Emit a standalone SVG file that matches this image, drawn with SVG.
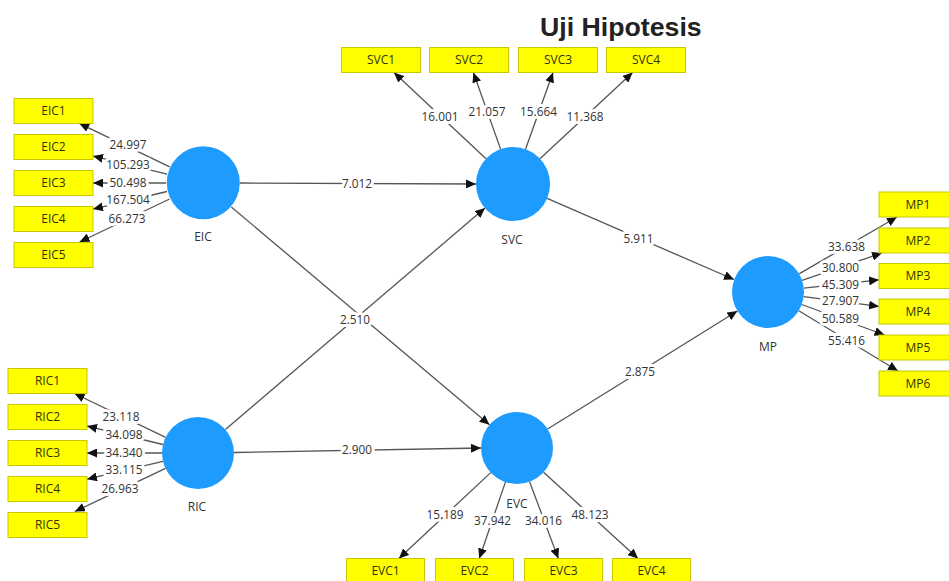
<svg xmlns="http://www.w3.org/2000/svg" width="949" height="581" viewBox="0 0 949 581">
<defs>
<marker id="ah" markerUnits="userSpaceOnUse" markerWidth="11" markerHeight="9" refX="10" refY="4.5" orient="auto"><path d="M0,0 L10,4.5 L0,9 z" fill="#111"/></marker>
<style>
.bg{fill:#fff}
.title{font-family:"Liberation Sans",Arial,sans-serif;font-weight:bold;font-size:26.7px;fill:#222}
.lv{fill:#1E9BFF}
.lvt{font-family:"Open Sans","Noto Sans",sans-serif;font-size:12px;fill:#333;text-anchor:middle}
.ind rect{fill:#FFFF00;stroke:#C8C800;stroke-width:1}
.ind text{font-family:"Open Sans","Noto Sans",sans-serif;font-size:12px;fill:#333300;text-anchor:middle}
.e line{stroke:#555;stroke-width:1.3;marker-end:url(#ah)}
.lbl{font-family:"Open Sans","Noto Sans",sans-serif;font-size:11.8px;fill:#333;text-anchor:middle;stroke:#fff;stroke-width:6;paint-order:stroke;stroke-linejoin:round}
</style>
</defs>
<rect class="bg" width="949" height="581"/>
<text class="title" x="540" y="36">Uji Hipotesis</text>

<g id="connectors" class="e">
<line x1="169.7" y1="166.9" x2="79.2" y2="123.3"/>
<line x1="167.1" y1="174.2" x2="93" y2="156.1"/>
<line x1="166" y1="183" x2="93" y2="183"/>
<line x1="167" y1="191.5" x2="93" y2="209.1"/>
<line x1="169.6" y1="199" x2="79.6" y2="242"/>
<line x1="165.6" y1="437.4" x2="74.5" y2="393.5"/>
<line x1="163" y1="444.5" x2="87" y2="426.1"/>
<line x1="162" y1="453" x2="87" y2="453"/>
<line x1="163" y1="461.3" x2="87" y2="479.2"/>
<line x1="165.5" y1="468.4" x2="74.9" y2="511.5"/>
<line x1="486" y1="158.7" x2="394" y2="72.5"/>
<line x1="500.6" y1="149.1" x2="473.4" y2="72.5"/>
<line x1="525.5" y1="149.2" x2="553" y2="72.5"/>
<line x1="540" y1="158.8" x2="632.6" y2="72.5"/>
<line x1="490.7" y1="472.6" x2="398.9" y2="558.5"/>
<line x1="505.4" y1="482.1" x2="479.3" y2="558.5"/>
<line x1="529.6" y1="481.7" x2="558.3" y2="558.5"/>
<line x1="543.6" y1="472.3" x2="638" y2="558.5"/>
<line x1="799.1" y1="273.9" x2="897" y2="217"/>
<line x1="802" y1="280.3" x2="882" y2="253"/>
<line x1="803.8" y1="288.1" x2="879" y2="279.8"/>
<line x1="803.7" y1="296.6" x2="879" y2="306.4"/>
<line x1="801.8" y1="304.5" x2="884.6" y2="335"/>
<line x1="798.8" y1="310.7" x2="898" y2="371"/>
<line x1="240" y1="183" x2="476" y2="184"/>
<line x1="231.3" y1="206.9" x2="489.5" y2="424.8"/>
<line x1="225.4" y1="429.6" x2="485" y2="208"/>
<line x1="234" y1="452.5" x2="481" y2="448"/>
<line x1="547.1" y1="198.4" x2="734" y2="279.5"/>
<line x1="547.6" y1="429" x2="737.4" y2="311"/>

<text class="lbl" x="128" y="145" dy="0.35em">24.997</text>
<text class="lbl" x="128" y="165" dy="0.35em">105.293</text>
<text class="lbl" x="128" y="183" dy="0.35em">50.498</text>
<text class="lbl" x="128" y="200" dy="0.35em">167.504</text>
<text class="lbl" x="127" y="218.5" dy="0.35em">66.273</text>

<text class="lbl" x="121" y="416.5" dy="0.35em">23.118</text>
<text class="lbl" x="124" y="435" dy="0.35em">34.098</text>
<text class="lbl" x="124" y="452.5" dy="0.35em">34.340</text>
<text class="lbl" x="124" y="470" dy="0.35em">33.115</text>
<text class="lbl" x="120" y="488.5" dy="0.35em">26.963</text>

<text class="lbl" x="440" y="116.5" dy="0.35em">16.001</text>
<text class="lbl" x="487" y="111.5" dy="0.35em">21.057</text>
<text class="lbl" x="538.5" y="111.5" dy="0.35em">15.664</text>
<text class="lbl" x="585" y="116.5" dy="0.35em">11.368</text>

<text class="lbl" x="445" y="515" dy="0.35em">15.189</text>
<text class="lbl" x="492.5" y="520.5" dy="0.35em">37.942</text>
<text class="lbl" x="543.5" y="520.5" dy="0.35em">34.016</text>
<text class="lbl" x="590" y="515" dy="0.35em">48.123</text>

<text class="lbl" x="846.5" y="246.5" dy="0.35em">33.638</text>
<text class="lbl" x="840.5" y="267.5" dy="0.35em">30.800</text>
<text class="lbl" x="840.5" y="285" dy="0.35em">45.309</text>
<text class="lbl" x="840.5" y="300.5" dy="0.35em">27.907</text>
<text class="lbl" x="840.5" y="318.5" dy="0.35em">50.589</text>
<text class="lbl" x="846.5" y="340.5" dy="0.35em">55.416</text>

<text class="lbl" x="357" y="183.5" dy="0.35em">7.012</text>
<text class="lbl" x="355" y="319.5" dy="0.35em">2.510</text>
<text class="lbl" x="357" y="450" dy="0.35em">2.900</text>
<text class="lbl" x="638.5" y="238.5" dy="0.35em">5.911</text>
<text class="lbl" x="640" y="372" dy="0.35em">2.875</text>
</g>

<g id="EIC"><circle class="lv" cx="203.3" cy="182.8" r="36.5"/><text class="lvt" x="203" y="241">EIC</text></g>
<g id="RIC"><circle class="lv" cx="198" cy="453" r="36"/><text class="lvt" x="197" y="511">RIC</text></g>
<g id="SVC"><circle class="lv" cx="513" cy="184" r="37"/><text class="lvt" x="512" y="244">SVC</text></g>
<g id="EVC"><circle class="lv" cx="517" cy="448" r="36"/><text class="lvt" x="517" y="507.5">EVC</text></g>
<g id="MP"><circle class="lv" cx="768" cy="292" r="36"/><text class="lvt" x="768" y="351">MP</text></g>

<g id="EIC1" class="ind"><rect x="14" y="98.5" width="79" height="25"/><text x="53.5" y="115">EIC1</text></g>
<g id="EIC2" class="ind"><rect x="14" y="134.5" width="79" height="25"/><text x="53.5" y="151">EIC2</text></g>
<g id="EIC3" class="ind"><rect x="14" y="170.5" width="79" height="25"/><text x="53.5" y="187">EIC3</text></g>
<g id="EIC4" class="ind"><rect x="14" y="206.5" width="79" height="25"/><text x="53.5" y="223">EIC4</text></g>
<g id="EIC5" class="ind"><rect x="14" y="242.5" width="79" height="25"/><text x="53.5" y="259">EIC5</text></g>

<g id="RIC1" class="ind"><rect x="8" y="368.5" width="79" height="25"/><text x="47.5" y="385">RIC1</text></g>
<g id="RIC2" class="ind"><rect x="8" y="404.5" width="79" height="25"/><text x="47.5" y="421">RIC2</text></g>
<g id="RIC3" class="ind"><rect x="8" y="440.5" width="79" height="25"/><text x="47.5" y="457">RIC3</text></g>
<g id="RIC4" class="ind"><rect x="8" y="476.5" width="79" height="25"/><text x="47.5" y="493">RIC4</text></g>
<g id="RIC5" class="ind"><rect x="8" y="512.5" width="79" height="25"/><text x="47.5" y="529">RIC5</text></g>

<g id="SVC1" class="ind"><rect x="341.5" y="47.5" width="79" height="25"/><text x="381" y="64">SVC1</text></g>
<g id="SVC2" class="ind"><rect x="429.5" y="47.5" width="79" height="25"/><text x="469" y="64">SVC2</text></g>
<g id="SVC3" class="ind"><rect x="518.5" y="47.5" width="79" height="25"/><text x="558" y="64">SVC3</text></g>
<g id="SVC4" class="ind"><rect x="606.5" y="47.5" width="79" height="25"/><text x="646" y="64">SVC4</text></g>

<g id="EVC1" class="ind"><rect x="346.5" y="558.5" width="78" height="25"/><text x="385.5" y="575">EVC1</text></g>
<g id="EVC2" class="ind"><rect x="435.5" y="558.5" width="78" height="25"/><text x="474.5" y="575">EVC2</text></g>
<g id="EVC3" class="ind"><rect x="524.5" y="558.5" width="78" height="25"/><text x="563.5" y="575">EVC3</text></g>
<g id="EVC4" class="ind"><rect x="612.5" y="558.5" width="78" height="25"/><text x="651.5" y="575">EVC4</text></g>

<g id="MP1" class="ind"><rect x="879" y="192" width="79" height="25"/><text x="918" y="208.5">MP1</text></g>
<g id="MP2" class="ind"><rect x="879" y="228" width="79" height="25"/><text x="918" y="244.5">MP2</text></g>
<g id="MP3" class="ind"><rect x="879" y="263.5" width="79" height="25"/><text x="918" y="280">MP3</text></g>
<g id="MP4" class="ind"><rect x="879" y="299" width="79" height="25"/><text x="918" y="315.5">MP4</text></g>
<g id="MP5" class="ind"><rect x="879" y="335" width="79" height="25"/><text x="918" y="351.5">MP5</text></g>
<g id="MP6" class="ind"><rect x="879" y="371" width="79" height="25"/><text x="918" y="387.5">MP6</text></g>
</svg>
